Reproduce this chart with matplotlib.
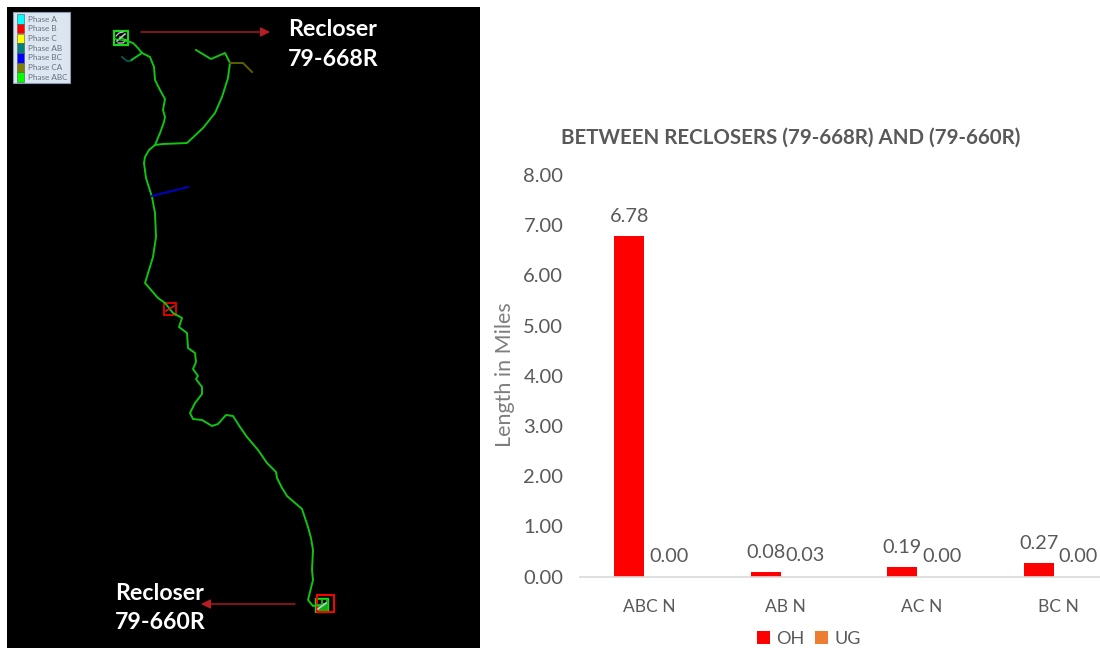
import matplotlib
matplotlib.use('Agg')
import matplotlib.pyplot as plt
from matplotlib.patches import Rectangle
import numpy as np

#chart data
categories=['ABC N','AB N','AC N','BC N']
oh_miles=[6.78,0.08,0.19,0.27]
ug_miles=[0.00,0.03,0.00,0.00]
y_ticks=[0,1,2,3,4,5,6,7,8]

#feeder map traces in pixels
main_line=[(120,37),(127,41),(133,43),(137,47),(142,53),(146,55),(150,57),(154,67),(155,80),(160,90),(165,99),(163,110),(165,117),(164,122),
           (160,133),(155,145),(149,150),(145,157),(144,163),(146,178),(152,197),(155,213),(156,237),(153,257),(149,270),(145,283),
           (158,298),(165,303),(173,313),(182,318),(179,327),(187,333),(188,348),(195,353),(196,362),
           (193,369),(198,376),(196,379),(202,387),(202,394),(195,403),(190,413),(193,419),(202,420),
           (212,426),(218,424),(226,415),(233,416),(240,427),(247,437),(258,450),(267,463),(276,472),
           (277,478),(282,488),(284,491),(287,496),(302,509),(308,527),(311,538),(313,550),(312,570),(313,580),(308,600),(313,606),(320,605)]
east_branch=[(155,145),(163,144),(187,143),(203,128),(215,113),(222,97),(228,78),(230,63),(225,53),(211,59),(196,50)]
west_branch=[(142,53),(130,61)]
ab_branch=[(130,61),(127,61),(122,57)]
ca_branch=[(230,63),(243,63),(252,72)]
bc_branch=[(152,196),(188,187)]
phase_names=['Phase A','Phase B','Phase C','Phase AB','Phase BC','Phase CA','Phase ABC']
phase_colors=['#00ffff','#ff0000','#ffff00','#008080','#0000ff','#808000','#00ff00']

plt.rcParams['font.family']=['Lato','DejaVu Sans']
GRAY='#595959'

fig=plt.figure(figsize=(11,6.48),dpi=100,facecolor='white')

#left panel, axes in pixels
mp=fig.add_axes([0,0,1,1])
mp.set_xlim(0,1100)
mp.set_ylim(648,0)
mp.axis('off')
mp.add_patch(Rectangle((7,7),473,641,fc='black',ec='none'))

def trace(pts,color,lw=1.4):
    xs,ys=zip(*pts)
    mp.plot(xs,ys,color=color,lw=lw,solid_joinstyle='round')

trace(main_line,'#10c410')
trace(east_branch,'#10c410')
trace(west_branch,'#10c410')
trace(ab_branch,'#0a5050')
trace(ca_branch,'#5f5f00')
trace(bc_branch,'#0000c8')

#recloser boxes
mp.add_patch(Rectangle((114,31),14,14,fc='black',ec='#18d818',lw=1.6))
mp.plot([117,125],[41,34],color='#c8c8d8',lw=1.2)
mp.plot([116,119,123],[36,33,32],color='#c8c8d8',lw=0.9)
mp.plot([118,123,126],[43,43,40],color='#c8c8d8',lw=0.9)
mp.plot([115,127],[39,41],color='#18d818',lw=1)
mp.add_patch(Rectangle((164,303),12,12,fc='none',ec='#ff0000',lw=1.2))
mp.plot([166,174],[311,306],color='#d02020',lw=1.2)
mp.add_patch(Rectangle((315,598),13,14,fc='#10b010',ec='#18d818',lw=1))
mp.add_patch(Rectangle((318,600),3,4,fc='black',ec='none'))
mp.add_patch(Rectangle((323,600),3,3,fc='black',ec='none'))
mp.plot([318,326],[609,603],color='#c8c8d8',lw=1.2)
mp.add_patch(Rectangle((317,595),17,17,fc='none',ec='#ff0000',lw=1.4))

#phase legend
mp.add_patch(Rectangle((13,12),57,71,fc='#dce6f1',ec='#8a9ab0',lw=0.8))
for i,(n,c) in enumerate(zip(phase_names,phase_colors)):
    y=19+i*9.7
    mp.add_patch(Rectangle((17,y-4.8),7,9.6,fc=c,ec='#555555',lw=0.4))
    mp.text(28,y,n,fontsize=5.9,color='#667080',va='center',ha='left')

#arrows and recloser names
arrow=dict(arrowstyle='-|>',color='#b81c24',lw=1,mutation_scale=14,shrinkA=0,shrinkB=0)
mp.annotate('',xy=(270,32),xytext=(141,32),arrowprops=arrow)
mp.annotate('',xy=(201,604),xytext=(295,604),arrowprops=arrow)
mp.text(288,44.5,'Recloser\n79-668R',color='white',fontsize=16.7,fontweight='bold',va='center',ha='left',linespacing=1.5)
mp.text(115,608,'Recloser\n79-660R',color='white',fontsize=16.7,fontweight='bold',va='center',ha='left',linespacing=1.5)

#right panel bar chart
left,right,top,bottom=580,1100,175,576.5
ax=fig.add_axes([left/1100,1-bottom/648,(right-left)/1100,(bottom-top)/648])
ax.patch.set_alpha(0)
step=136.5
ax.set_xlim((left-649)/step,(right-649)/step)
ax.set_ylim(0,8)
x=np.arange(len(categories))
off=0.143
w=0.22
b1=ax.bar(x-off,oh_miles,w,color='#ff0000',label='OH')
b2=ax.bar(x+off,ug_miles,w,color='#ed7d31',label='UG')
#the 0.03 bar does not show in the picture, only its label
b2[1].set_visible(False)
for bars,vals in ((b1,oh_miles),(b2,ug_miles)):
    for r,v in zip(bars,vals):
        ax.annotate('%.2f'%v,(r.get_x()+r.get_width()/2,v),xytext=(0,8),textcoords='offset points',
                    ha='center',va='bottom',fontsize=14.3,color=GRAY,annotation_clip=False)

ax.set_xticks(x,categories)
ax.set_yticks(y_ticks,['%.2f'%t for t in y_ticks])
ax.tick_params(axis='both',length=0,labelsize=14.5,labelcolor=GRAY)
ax.tick_params(axis='x',pad=16.5,labelsize=12.5)
ax.tick_params(axis='y',pad=12)
for s in ['top','right','left']:
    ax.spines[s].set_visible(False)
ax.spines['bottom'].set_color('#d9d9d9')
ax.spines['bottom'].set_linewidth(1.2)

fig.text(505/1100,1-375/648,'Length in Miles',rotation=90,fontsize=15.5,color='#7f7f7f',ha='center',va='center')
fig.text(791/1100,1-138/648,'BETWEEN RECLOSERS (79-668R) AND (79-660R)',fontsize=14.8,fontweight='bold',color=GRAY,ha='center',va='center')

h,l=ax.get_legend_handles_labels()
fig.legend(h,l,loc='center',bbox_to_anchor=(809/1100,1-639/648),ncols=2,frameon=False,fontsize=13,labelcolor=GRAY,
           handlelength=0.7,handleheight=0.7,handletextpad=0.35,columnspacing=0.6,borderpad=0,borderaxespad=0)

fig.savefig('out.png',dpi=100)
